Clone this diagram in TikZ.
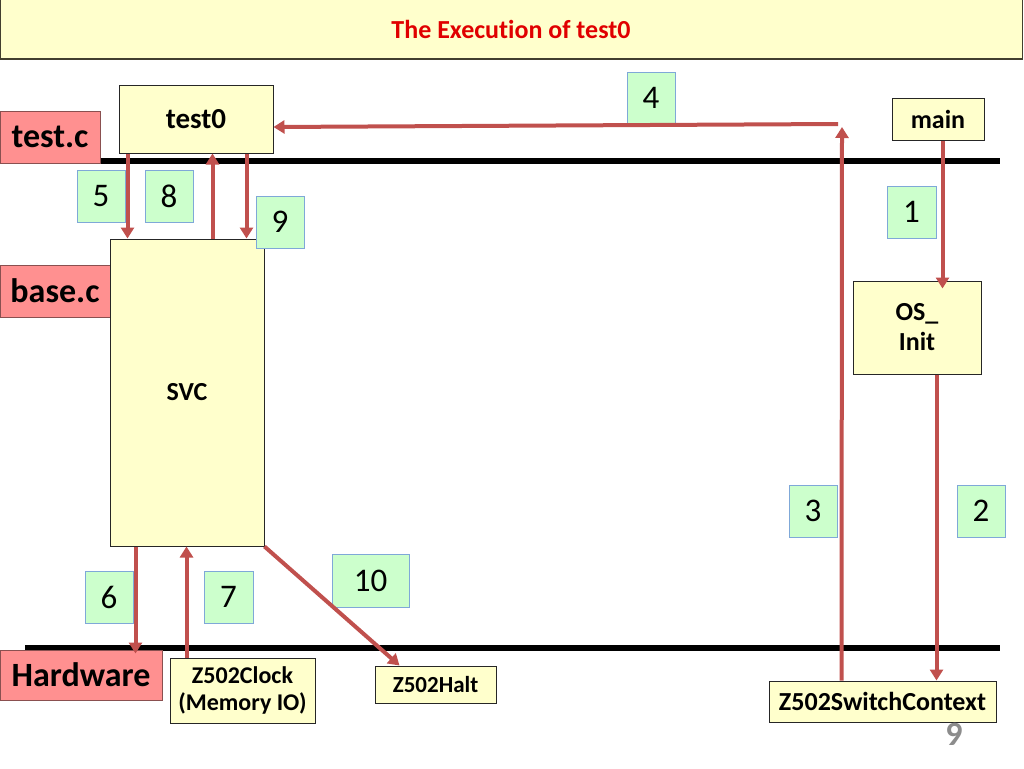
\documentclass[tikz,border=0pt]{standalone}
\usepackage{fontspec}
\setmainfont{Carlito}[Ligatures=NoCommon]
\usetikzlibrary{arrows.meta}
\definecolor{boxyellow}{HTML}{FFFFCC}
\definecolor{labred}{HTML}{FF9090}
\definecolor{labborder}{HTML}{8A5050}
\definecolor{numgreen}{HTML}{CCFFCC}
\definecolor{numborder}{HTML}{7FA8D8}
\definecolor{arrred}{HTML}{C0504D}
\definecolor{titlered}{HTML}{E00000}
\tikzset{
  ybox/.style={draw=black!85, line width=1pt, fill=boxyellow, inner sep=2pt, align=center,
    font=\fontsize{26}{27}\selectfont\bfseries},
  labbox/.style={draw=labborder, line width=1pt, fill=labred, inner sep=2pt,
    font=\fontsize{34}{36}\selectfont\bfseries},
  numbox/.style={draw=numborder, line width=0.8pt, fill=numgreen, inner sep=0pt,
    minimum height=52, font=\fontsize{33}{34}\selectfont},
  arr/.style={draw=arrred, line width=4pt, -{Triangle[width=13pt,length=11pt]}},
  sepline/.style={draw=black, line width=6pt}
}
\begin{document}
\begin{tikzpicture}[x=1pt,y=-1pt]
\useasboundingbox (0,0) rectangle (1024,768);
% title
\node[draw=black!70!olive, line width=1pt, fill=boxyellow, minimum width=1022, minimum height=59,
  inner sep=0pt, font=\fontsize{26}{28}\selectfont\bfseries, text=titlered] (title) at (511,29.5) {The Execution of test0};
% separator lines
\draw[sepline] (25,161) -- (1000,161);
\draw[sepline] (25,648) -- (1000,648);
% labels
\node[labbox, minimum width=100, minimum height=52] (testc) at (50,137) {test.c};
\node[labbox, minimum width=110, minimum height=52] (basec) at (55,291) {base.c};
\node[labbox, minimum width=162, minimum height=50] (hw) at (81,675) {Hardware};
% boxes
\node[ybox, minimum width=154, minimum height=68, font=\fontsize{29}{30}\selectfont\bfseries] (test0) at (196,119) {test0};
\node[ybox, minimum width=92, minimum height=42] (main) at (938,119) {main};
\node[ybox, minimum width=154, minimum height=307] (svc) at (187,392.5) {SVC};
\node[ybox, minimum width=128, minimum height=93, font=\fontsize{26}{30}\selectfont\bfseries] (osinit) at (917,327.5) {OS\_\\Init};
\node[ybox, minimum width=145, minimum height=65, font=\fontsize{24}{27}\selectfont\bfseries] (clk) at (242.5,690.5) {Z502Clock\\(Memory IO)};
\node[ybox, minimum width=121, minimum height=37, font=\fontsize{23}{27}\selectfont\bfseries] (halt) at (435.5,684.5) {Z502Halt};
\node[ybox, minimum width=227, minimum height=41] (ssc) at (882.5,701.5) {Z502SwitchContext};
% number boxes
\node[numbox, minimum width=48] (n4) at (651,98) {4};
\node[numbox, minimum width=48] (n5) at (101,196) {5};
\node[numbox, minimum width=48] (n8) at (169,196) {8};
\node[numbox, minimum width=48] (n9) at (280,222) {9};
\node[numbox, minimum width=49] (n1) at (911.5,212) {1};
\node[numbox, minimum width=48] (n3) at (813,511) {3};
\node[numbox, minimum width=48] (n2) at (981,511) {2};
\node[numbox, minimum width=48] (n6) at (109,597) {6};
\node[numbox, minimum width=49] (n7) at (228.5,597) {7};
\node[numbox, minimum width=77, minimum height=53] (n10) at (370.5,580.5) {10};
% page number
\node[text=black!45, font=\fontsize{34}{36}\selectfont\bfseries] (page) at (954,734) {9};
% free ends
\coordinate (c4) at (838,124);
\coordinate (c3) at (842,127);
% arrows
\draw[arr] ([xshift=9pt]test0.south west) -- ([xshift=18pt]svc.north west);
\draw[arr] ([xshift=103pt]svc.north west) -- ([xshift=94pt]test0.south west);
\draw[arr] ([xshift=128pt]test0.south west) -- ([xshift=137pt]svc.north west);
\draw[arr] ([xshift=26pt]svc.south west) -- ([xshift=136pt,yshift=-4pt]hw.north west);
\draw[arr] ([xshift=17pt]clk.north west) -- ([xshift=77pt]svc.south west);
\draw[arr] (svc.south east) -- ([xshift=25pt]halt.north west);
\draw[arr] (c4) -- ([yshift=-8pt]test0.east);
\draw[arr] ([xshift=73pt]ssc.north west) -- (c3);
\draw[arr] ([xshift=51pt]main.south west) -- ([xshift=90pt,yshift=-8pt]osinit.north west);
\draw[arr] ([xshift=84pt]osinit.south west) -- ([xshift=168pt]ssc.north west);
\end{tikzpicture}
\end{document}
